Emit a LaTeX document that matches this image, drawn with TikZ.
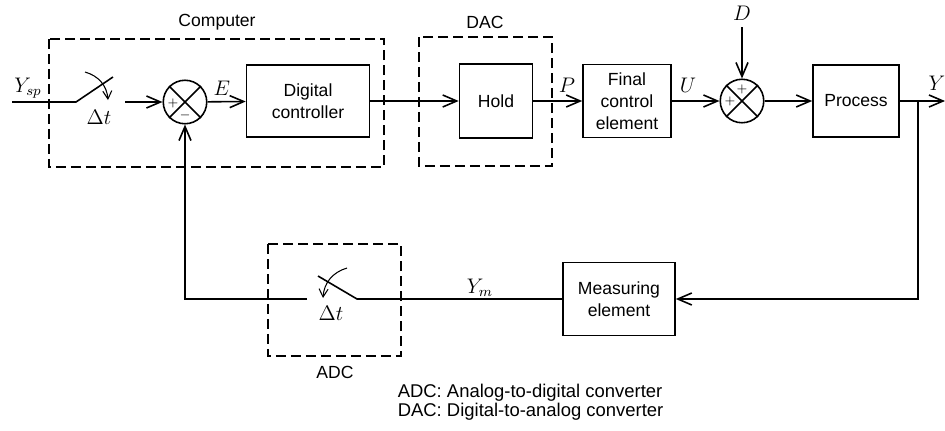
\documentclass[tikz,border=0pt]{standalone}
\usepackage{fontspec}
\setsansfont{Liberation Sans}
\usepackage{tikz}
\usetikzlibrary{arrows.meta,calc}

\begin{document}
\begin{tikzpicture}[x=0.02cm, y=-0.02cm, line width=0.9pt,
    every node/.style={font=\sffamily\fontsize{10}{12.5}\selectfont},
    block/.style={draw, align=center, inner sep=0pt},
    sumnode/.style={draw, circle, minimum size=0.87cm, inner sep=0pt},
    dashbox/.style={line width=0.7pt, dash pattern=on 2mm off 1mm},
    flow/.style={-{Straight Barb[length=2.8mm,width=2.4mm]}},
    swarc/.style={line width=0.6pt, -{Straight Barb[length=1.6mm,width=1.8mm]}},
    sign/.style={font=\scriptsize, inner sep=0pt},
    sig/.style={font=\fontsize{11.5}{13}\selectfont}]

\useasboundingbox (0,0) rectangle (945,430);

% Dashed boxes
\draw[dashbox] (49,39) rectangle (384,167);
\node (computer) at (217,22) {Computer};
\draw[dashbox] (419,37) rectangle (552,166);
\node (dac) at (485,22) {DAC};
\draw[dashbox] (268,244) rectangle (401,356);
\node (adc) at (335,372) {ADC};

% Blocks
\node[block, minimum width=2.46cm, minimum height=1.44cm] (ctrl) at (308,101) {Digital\\controller};
\node[block, minimum width=1.46cm, minimum height=1.48cm] (hold) at (496,101) {Hold};
\node[block, minimum width=1.76cm, minimum height=1.46cm] (final) at (627,101) {Final\\control\\element};
\node[block, minimum width=1.72cm, minimum height=1.44cm] (proc) at (856,101) {Process};
\node[block, minimum width=2.24cm, minimum height=1.46cm] (meas) at (619,299) {Measuring\\element};

% Summing junctions
\node[sumnode] (sum1) at (185,102) {};
\draw (sum1.north west) -- (sum1.south east);
\draw (sum1.north east) -- (sum1.south west);
\node[sign] (sum1p) at ($(sum1.center)+(-12,1)$) {$+$};
\node[sign] (sum1m) at ($(sum1.center)+(0,13)$) {$-$};

\node[sumnode] (sum2) at (742,101) {};
\draw (sum2.north west) -- (sum2.south east);
\draw (sum2.north east) -- (sum2.south west);
\node[sign] (sum2t) at ($(sum2.center)+(0,-12)$) {$+$};
\node[sign] (sum2l) at ($(sum2.center)+(-12,0)$) {$+$};

% Free ends and corners
\coordinate (in) at (12,102);
\coordinate (piv1) at (76,102);
\coordinate (tip1) at (113,77);
\coordinate (con1) at (125,102);
\coordinate (dtop) at (742,27);
\coordinate (branch) at (918,101);
\coordinate (out) at (945,101);
\coordinate (corner1) at (918,299);
\coordinate (piv2) at (357,299);
\coordinate (tip2) at (318,276);
\coordinate (con2) at (307,299);
\coordinate (corner2) at (185,299);

% Forward path
\draw (in) -- (piv1) -- (tip1);
\draw[swarc] (85,72) to[bend left=35] (108,100);
\draw[flow] (con1) -- (sum1);
\draw[flow] (sum1) -- (ctrl);
\draw[flow] (ctrl) -- (hold);
\draw[flow] (hold) -- (final);
\draw[flow] (final) -- (sum2);
\draw[flow] (dtop) -- (sum2);
\draw[flow] (sum2) -- (proc);
\draw[flow] (proc) -- (out);

% Feedback path
\draw[flow] (branch) -- (corner1) -- (meas);
\draw (meas) -- (piv2) -- (tip2);
\draw[swarc] (347,268) to[bend right=35] (323,298);
\draw[flow] (con2) -- (corner2) -- (sum1);

% Signal labels
\node[sig] (ysp) at (28,88) {$Y_{sp}$};
\node[sig] (dt1) at (99,117) {$\Delta t$};
\node[sig] (e) at (222,88) {$E$};
\node[sig] (p) at (567,85) {$P$};
\node[sig] (u) at (688,85) {$U$};
\node[sig] (d) at (742,13) {$D$};
\node[sig] (y) at (937,83) {$Y$};
\node[sig] (ym) at (480,288) {$Y_m$};
\node[sig] (dt2) at (331,313) {$\Delta t$};

% Legend
\node[anchor=west, inner sep=0pt, font=\sffamily\fontsize{10.5}{12}\selectfont] (legadc) at (397,393) {ADC: Analog-to-digital converter};
\node[anchor=west, inner sep=0pt, font=\sffamily\fontsize{10.5}{12}\selectfont] (legdac) at (397,412) {DAC: Digital-to-analog converter};

\end{tikzpicture}
\end{document}
